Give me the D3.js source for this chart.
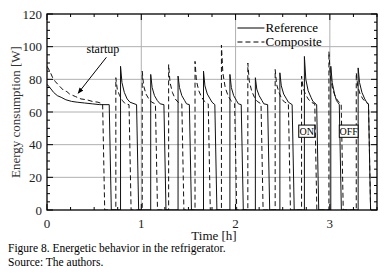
<!DOCTYPE html>
<html>
<head>
<meta charset="utf-8">
<script src="https://cdn.jsdelivr.net/npm/d3@7"></script>
<style>
  body { margin: 0; background: #fff; }
  svg { display: block; font-family: "Liberation Serif", "DejaVu Serif", serif; }
</style>
</head>
<body>
<svg id="chart" width="388" height="278"></svg>
<script>
// Composite (dashed) – [time h, power W]
const compositeSeries = [
  [0, 88], [0.03, 85], [0.06, 81], [0.09, 78.5], [0.13, 76], [0.18, 73], [0.21, 72.5], [0.24, 71], [0.30, 69.5],
  [0.36, 68], [0.42, 67.5], [0.48, 66.5], [0.54, 66], [0.59, 65], [0.612, 0],
  [0.73, 0], [0.73, 81], [0.745, 74], [0.77, 70], [0.80, 67], [0.83, 65], [0.87, 64.5], [0.892, 0],
  [1.01, 0], [1.01, 85], [1.025, 76], [1.05, 71], [1.08, 68], [1.11, 66], [1.15, 65], [1.172, 0],
  [1.29, 0], [1.29, 89], [1.305, 78], [1.33, 72], [1.36, 68], [1.39, 66], [1.43, 65], [1.452, 0],
  [1.57, 0], [1.57, 91], [1.585, 79], [1.61, 73], [1.64, 69], [1.67, 66.5], [1.71, 65], [1.732, 0],
  [1.85, 0], [1.85, 101], [1.865, 84], [1.89, 75], [1.92, 70], [1.95, 67], [1.99, 65], [2.012, 0],
  [2.13, 0], [2.13, 90], [2.145, 79], [2.17, 73], [2.20, 69], [2.23, 66.5], [2.27, 65], [2.292, 0],
  [2.42, 0], [2.42, 86], [2.435, 77], [2.46, 72], [2.49, 68], [2.52, 66], [2.56, 65], [2.582, 0],
  [2.70, 0], [2.70, 82], [2.715, 75], [2.74, 71], [2.77, 68], [2.80, 66], [2.84, 65], [2.862, 0],
  [2.99, 0], [2.99, 97], [3.005, 82], [3.03, 74], [3.06, 69], [3.09, 66.5], [3.12, 65], [3.142, 0],
  [3.28, 0], [3.28, 84], [3.295, 76], [3.32, 71], [3.35, 68], [3.38, 66], [3.41, 65], [3.432, 0]
];

// Reference (solid)
const referenceSeries = [
  [0, 77], [0.03, 75], [0.07, 72], [0.11, 70], [0.15, 69], [0.20, 67.5], [0.26, 66.5], [0.32, 66],
  [0.40, 65.5], [0.48, 65], [0.56, 64.5], [0.66, 64.5], [0.682, 0],
  [0.78, 0], [0.78, 88], [0.795, 78], [0.82, 72], [0.85, 68], [0.88, 66], [0.95, 64.5], [0.972, 0],
  [1.10, 0], [1.10, 83], [1.115, 75], [1.14, 70], [1.17, 67], [1.20, 65], [1.24, 64.5], [1.262, 0],
  [1.39, 0], [1.39, 82], [1.405, 75], [1.43, 70], [1.46, 67], [1.48, 65], [1.51, 64.5], [1.532, 0],
  [1.66, 0], [1.66, 85], [1.675, 76], [1.70, 71], [1.73, 68], [1.75, 66], [1.78, 64.5], [1.802, 0],
  [1.94, 0], [1.94, 83], [1.955, 75], [1.98, 70], [2.01, 67], [2.03, 65], [2.06, 64.5], [2.082, 0],
  [2.21, 0], [2.21, 81], [2.225, 74], [2.25, 70], [2.28, 67], [2.30, 65], [2.34, 64.5], [2.362, 0],
  [2.47, 0], [2.47, 84], [2.485, 76], [2.51, 71], [2.54, 68], [2.56, 66], [2.60, 64.5], [2.622, 0],
  [2.73, 0], [2.73, 94], [2.745, 80], [2.77, 73], [2.80, 69], [2.82, 66.5], [2.86, 64.5], [2.882, 0],
  [3.01, 0], [3.01, 88], [3.025, 78], [3.05, 71], [3.07, 67], [3.09, 65.5], [3.10, 64.5], [3.122, 0],
  [3.30, 0], [3.30, 87], [3.315, 78], [3.34, 72], [3.37, 68], [3.39, 66], [3.41, 64.5], [3.432, 0]
];

const xTicks = [0, 1, 2, 3];
const yTicks = [0, 20, 40, 60, 80, 100, 120];
const legendLabels = ["Reference", "Composite"];

const svg = d3.select("#chart");
const margin = { top: 14, right: 11, bottom: 68, left: 47 };
const width = 388, height = 278;
const innerWidth = width - margin.left - margin.right;
const innerHeight = height - margin.top - margin.bottom;

const g = svg.append("g").attr("transform", `translate(${margin.left},${margin.top})`);

const x = d3.scaleLinear().domain([0, 3.5]).range([0, innerWidth]);
const y = d3.scaleLinear().domain([0, 120]).range([innerHeight, 0]);

// grid
g.append("g").selectAll("line").data(yTicks.filter(d => d > 0 && d < 120)).enter().append("line")
  .attr("x1", 0).attr("x2", innerWidth)
  .attr("y1", d => y(d)).attr("y2", d => y(d))
  .attr("stroke", "#b0b0b0").attr("stroke-width", 1);
g.append("g").selectAll("line").data(xTicks.filter(d => d > 0)).enter().append("line")
  .attr("y1", 0).attr("y2", innerHeight)
  .attr("x1", d => x(d)).attr("x2", d => x(d))
  .attr("stroke", "#b0b0b0").attr("stroke-width", 1);

// ticks on all four sides, pointing in
const xMinor = d3.range(0, 3.5001, 0.25);
const yMinor = d3.range(0, 120.001, 5);
const tk = g.append("g").attr("stroke", "#000").attr("stroke-width", 1);
xMinor.forEach(v => {
  const len = Math.abs(v - Math.round(v)) < 1e-6 ? 6 : 3;
  tk.append("line").attr("x1", x(v)).attr("x2", x(v)).attr("y1", innerHeight).attr("y2", innerHeight - len);
  tk.append("line").attr("x1", x(v)).attr("x2", x(v)).attr("y1", 0).attr("y2", len);
});
yMinor.forEach(v => {
  const len = v % 20 === 0 ? 6 : 3;
  tk.append("line").attr("y1", y(v)).attr("y2", y(v)).attr("x1", 0).attr("x2", len);
  tk.append("line").attr("y1", y(v)).attr("y2", y(v)).attr("x1", innerWidth).attr("x2", innerWidth - len);
});

// tick labels
g.append("g").selectAll("text").data(yTicks).enter().append("text")
  .attr("x", -5).attr("y", d => y(d)).attr("dy", "0.35em")
  .attr("text-anchor", "end").attr("font-size", 13).attr("fill", "#222")
  .text(d => d);
g.append("g").selectAll("text").data(xTicks).enter().append("text")
  .attr("x", d => x(d)).attr("y", innerHeight + 18)
  .attr("text-anchor", "middle").attr("font-size", 13).attr("fill", "#222")
  .text(d => d);

// series
g.append("clipPath").attr("id", "clip").append("rect")
  .attr("width", innerWidth).attr("height", innerHeight);
const line = d3.line().x(d => x(d[0])).y(d => y(d[1]));

g.append("path").datum(compositeSeries)
  .attr("clip-path", "url(#clip)")
  .attr("d", line).attr("fill", "none")
  .attr("stroke", "#111").attr("stroke-width", 1)
  .attr("stroke-dasharray", "5,3");
g.append("path").datum(referenceSeries)
  .attr("clip-path", "url(#clip)")
  .attr("d", line).attr("fill", "none")
  .attr("stroke", "#111").attr("stroke-width", 1);

// frame
g.append("rect").attr("width", innerWidth).attr("height", innerHeight)
  .attr("fill", "none").attr("stroke", "#000").attr("stroke-width", 1.3);

// legend
const lg = g.append("g").attr("transform", `translate(${x(2.02)},0)`);
legendLabels.forEach((name, i) => {
  const ly = 14 + i * 14;
  lg.append("line").attr("x1", 0).attr("x2", 27).attr("y1", ly).attr("y2", ly)
    .attr("stroke", "#000").attr("stroke-width", 1)
    .attr("stroke-dasharray", i === 1 ? "5,3" : null);
  lg.append("text").attr("x", 28).attr("y", ly + 4).attr("font-size", 13).attr("fill", "#000").text(name);
});

// startup annotation
g.append("defs").append("marker").attr("id", "arrow")
  .attr("viewBox", "0 0 10 10").attr("refX", 9).attr("refY", 5)
  .attr("markerWidth", 6).attr("markerHeight", 6).attr("orient", "auto")
  .append("path").attr("d", "M0,1L10,5L0,9z").attr("fill", "#000");
g.append("text").attr("x", x(0.42)).attr("y", y(96)).attr("font-size", 12).attr("fill", "#000").text("startup");
g.append("line")
  .attr("x1", x(0.63)).attr("y1", y(93.5)).attr("x2", x(0.33)).attr("y2", y(71.5))
  .attr("stroke", "#000").attr("stroke-width", 1).attr("marker-end", "url(#arrow)");

// ON / OFF boxes
[["ON", 2.67, 2.84], ["OFF", 3.1, 3.3]].forEach(([label, a, b]) => {
  g.append("rect").attr("x", x(a)).attr("y", y(52)).attr("width", x(b) - x(a)).attr("height", y(44.5) - y(52))
    .attr("fill", "#fff").attr("stroke", "#000").attr("stroke-width", 1);
  g.append("text").attr("x", (x(a) + x(b)) / 2).attr("y", y(45.8))
    .attr("text-anchor", "middle").attr("font-size", 10).attr("fill", "#000").text(label);
});

// axis titles
svg.append("text").attr("transform", `translate(20,${margin.top + innerHeight / 2}) rotate(-90)`)
  .attr("text-anchor", "middle").attr("font-size", 13).attr("fill", "#333")
  .text("Energy consumption [W]");
svg.append("text").attr("x", margin.left + innerWidth / 2 + 2).attr("y", 240)
  .attr("text-anchor", "middle").attr("font-size", 13).attr("fill", "#111").text("Time [h]");

// caption
svg.append("text").attr("x", 8).attr("y", 252).attr("font-size", 11.5).attr("fill", "#000")
  .text("Figure 8. Energetic behavior in the refrigerator.");
svg.append("text").attr("x", 8).attr("y", 266).attr("font-size", 11.5).attr("fill", "#000")
  .text("Source: The authors.");
</script>
</body>
</html>
